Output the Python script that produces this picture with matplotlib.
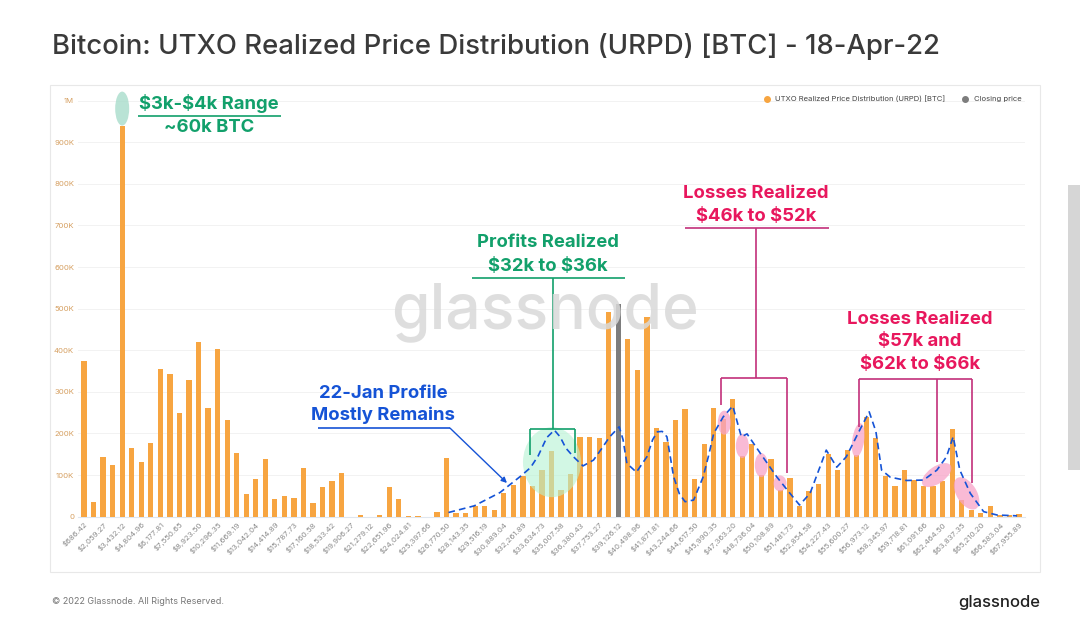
import matplotlib
matplotlib.use('Agg')
import matplotlib.pyplot as plt
from matplotlib.patches import Ellipse, Rectangle
from matplotlib.lines import Line2D
from matplotlib.transforms import ScaledTranslation

plt.rcParams['font.family'] = ['Inter', 'DejaVu Sans']
plt.rcParams['text.parse_math'] = False

# URPD per price bucket, in thousands of BTC (bucket 56 holds the closing price)
urpd_k = [375, 36, 143, 124, 940, 166, 131, 178, 355, 342,
          250, 329, 419, 262, 402, 233, 154, 54, 90, 139,
          42, 50, 46, 116, 34, 71, 86, 104, 0, 3,
          0, 3, 71, 42, 2, 2, 0, 11, 140, 9,
          9, 25, 25, 15, 58, 76, 98, 74, 111, 157,
          64, 103, 192, 192, 190, 493, 0, 426, 353, 481,
          214, 180, 233, 259, 91, 174, 262, 235, 284, 145,
          175, 101, 139, 65, 94, 25, 61, 79, 151, 113,
          161, 149, 240, 189, 97, 73, 111, 89, 73, 73,
          85, 211, 41, 17, 10, 26, 5, 5, 6]
close_idx = 56
close_k = 511

tick_labels = ['$686.42', '$2,059.27', '$3,432.12', '$4,804.96', '$6,177.81',
               '$7,550.65', '$8,923.50', '$10,296.35', '$11,669.19', '$13,042.04',
               '$14,414.89', '$15,787.73', '$17,160.58', '$18,533.42', '$19,906.27',
               '$21,279.12', '$22,651.96', '$24,024.81', '$25,397.66', '$26,770.50',
               '$28,143.35', '$29,516.19', '$30,889.04', '$32,261.89', '$33,634.73',
               '$35,007.58', '$36,380.43', '$37,753.27', '$39,126.12', '$40,498.96',
               '$41,871.81', '$43,244.66', '$44,617.50', '$45,990.35', '$47,363.20',
               '$48,736.04', '$50,108.89', '$51,481.73', '$52,854.58', '$54,227.43',
               '$55,600.27', '$56,973.12', '$58,345.97', '$59,718.81', '$61,091.66',
               '$62,464.50', '$63,837.35', '$65,210.20', '$66,583.04', '$67,955.89']

# hand-drawn 22-Jan profile (bucket position, thousands of BTC)
jan_x = [38.2, 40.9, 43.6, 45.8, 46.8, 47.6, 48.5, 49.3, 49.9, 50.5, 51.3, 52.3,
         53.4, 54.3, 55.1, 56.1, 56.5, 56.9, 57.9, 59.0, 59.6, 60.1, 60.6, 61.1,
         61.8, 62.4, 63.0, 63.9, 64.9, 65.5, 66.0, 67.0, 68.0, 68.9, 69.5, 70.9,
         72.6, 74.0, 75.0, 76.1, 77.8, 78.9, 79.9, 81.3, 82.3, 83.0, 83.6, 84.5,
         86.2, 88.0, 89.4, 90.4, 91.1, 91.8, 92.9, 94.3, 95.7, 97.8]
jan_k = [10, 26, 58, 98, 118, 146, 190, 208, 192, 165, 144, 122,
         136, 165, 192, 216, 185, 128, 107, 144, 185, 204, 205, 192,
         96, 55, 36, 40, 96, 150, 200, 240, 266, 192, 199, 152,
         96, 56, 28, 56, 160, 119, 144, 208, 252, 205, 112, 95,
         87, 88, 112, 144, 192, 112, 56, 12, 4, 2]

ORANGE = '#f7a541'
GREEN = '#12a06b'
PINK = '#e8175d'
BRACKET = '#c2307a'
BLUE = '#1553d6'

fig = plt.figure(figsize=(10.8, 6.24), dpi=100)
fig.patches.append(Rectangle((50 / 1080, 1 - 572 / 624), 990 / 1080, 487 / 624,
                             transform=fig.transFigure, fill=False,
                             edgecolor='#e8e8e8', lw=0.8))
fig.patches.append(Rectangle((1068 / 1080, 1 - 470 / 624), 12 / 1080, 285 / 624,
                             transform=fig.transFigure, color='#d6d6d6', lw=0))

ax = fig.add_axes([0.0725, 0.172, 0.8763, 0.6833])
xs = list(range(len(urpd_k)))
ax.bar(xs, [v * 1000 for v in urpd_k], width=0.55, color=ORANGE, zorder=3)
ax.bar([close_idx], [close_k * 1000], width=0.55, color='#7d7d7d', zorder=3)
ax.plot(jan_x, [v * 1000 for v in jan_k], color=BLUE, lw=1.2,
        dashes=(4, 2.5), zorder=6)

ax.set_xlim(-0.6, 98.6)
ax.set_ylim(0, 1025000)
ax.set_xticks(xs[::2])
ax.set_xticklabels(tick_labels, rotation=45, ha='right', fontsize=5.6,
                   color='#8a8a8a', rotation_mode='anchor')
yt = [i * 100000 for i in range(11)]
ax.set_yticks(yt)
ax.set_yticklabels(['0'] + ['%dK' % (i * 100) for i in range(1, 10)] + ['1M'],
                   fontsize=5.6, color='#d6a062')
ax.tick_params(axis='both', length=0, pad=3)
ax.grid(axis='y', color='#f2f2f2', lw=0.7, zorder=0)
for s in ['top', 'right', 'left']:
    ax.spines[s].set_visible(False)
ax.spines['bottom'].set_color('#dfe6ee')
ax.spines['bottom'].set_linewidth(0.8)


def blob(i, v, w_px, h_px, angle, color, alpha):
    # ellipse sized in pixels, anchored at a data position
    tr = fig.dpi_scale_trans + ScaledTranslation(i, v * 1000, ax.transData)
    ax.add_patch(Ellipse((0, 0), w_px / 100, h_px / 100, angle=angle,
                         transform=tr, facecolor=color, alpha=alpha,
                         edgecolor='none', zorder=5))


def seg(x0, y0, x1, y1, color, lw=1.2):
    ax.plot([x0, x1], [y0 * 1000, y1 * 1000], color=color, lw=lw,
            solid_capstyle='butt', zorder=7)


def label(i, v, s, color, size=13.3):
    ax.text(i, v * 1000, s, color=color, fontsize=size, fontweight='bold',
            ha='center', va='center', zorder=8)


# watermark
fig.text(0.5046, 0.50, 'glassnode', fontsize=45, color='#d9d9d9',
         ha='center', va='center', fontweight='medium', alpha=0.85, zorder=1)

# $3k-$4k range
blob(4, 981, 14, 34, 0, '#a8dccb', 0.8)
label(13.1, 994, '$3k-$4k Range', GREEN)
label(13.1, 936, '~60k BTC', GREEN)
seg(5.66, 963, 20.65, 963, GREEN)

# profits realized
blob(49.05, 131, 58, 70, 0, '#b5f2d2', 0.6)
label(48.6, 658, 'Profits Realized', GREEN)
label(48.6, 602, '$32k to $36k', GREEN)
seg(40.67, 573, 56.7, 573, GREEN)
seg(49.16, 573, 49.16, 211, GREEN)
seg(46.75, 211, 51.46, 211, GREEN)
seg(46.75, 211, 46.75, 148, GREEN)
seg(51.46, 211, 51.46, 153, GREEN)

# losses realized $46k to $52k
for bi, bv, bh in [(67.11, 226, 24), (69.0, 170, 24), (70.99, 124, 24), (72.95, 80, 16)]:
    blob(bi, bv, 13, bh, 0, '#f7a3c7', 0.75)
label(70.43, 778, 'Losses Realized', PINK)
label(70.43, 722, '$46k to $52k', PINK)
seg(63.0, 693, 78.08, 693, BRACKET)
seg(70.43, 693, 70.43, 333, BRACKET)
seg(66.76, 333, 73.68, 333, BRACKET)
seg(66.76, 333, 66.76, 268, BRACKET)
seg(73.68, 333, 73.68, 106, BRACKET)

# losses realized $57k and $62k to $66k
blob(81.15, 184, 12, 34, -8, '#f7a3c7', 0.75)
blob(89.37, 100, 34, 17, 35, '#f7a3c7', 0.75)
blob(92.51, 56, 20, 36, 32, '#f7a3c7', 0.75)
label(87.62, 475, 'Losses Realized', PINK)
label(87.62, 420, '$57k and', PINK)
label(87.62, 365, '$62k to $66k', PINK)
seg(81.26, 330, 93.04, 330, BRACKET)
seg(81.26, 330, 81.26, 216, BRACKET)
seg(89.37, 330, 89.37, 132, BRACKET)
seg(93.04, 330, 93.04, 80, BRACKET)

# 22-Jan profile
label(31.34, 297, '22-Jan Profile', BLUE)
label(31.34, 244, 'Mostly Remains', BLUE)
seg(24.5, 213, 38.36, 213, BLUE)
ax.annotate('', xy=(44.33, 81000), xytext=(38.36, 213000),
            arrowprops=dict(arrowstyle='-|>', color=BLUE, lw=1.0,
                            mutation_scale=8, shrinkA=0, shrinkB=0), zorder=7)

handles = [Line2D([], [], marker='o', ls='', color=ORANGE, markersize=4),
           Line2D([], [], marker='o', ls='', color='#7d7d7d', markersize=4)]
fig.legend(handles, ['UTXO Realized Price Distribution (URPD) [BTC]', 'Closing price'],
           loc='center right', bbox_to_anchor=(1028 / 1080, 1 - 99 / 624), ncol=2,
           frameon=False, fontsize=5.5, handletextpad=0.1, columnspacing=1.6,
           labelcolor='#444444')

fig.text(52 / 1080, 1 - 47 / 624, 'Bitcoin: UTXO Realized Price Distribution (URPD) [BTC] - 18-Apr-22',
         fontsize=19.8, color='#3a3a3a', va='center', ha='left', fontweight='medium')
fig.text(52 / 1080, 1 - 602 / 624, '\u00a9 2022 Glassnode. All Rights Reserved.',
         fontsize=6.5, color='#777777', va='center', ha='left')
fig.text(1040 / 1080, 1 - 602 / 624, 'glassnode', fontsize=12, color='#222222',
         va='center', ha='right', fontweight='medium')

fig.savefig('out.png', dpi=100)
